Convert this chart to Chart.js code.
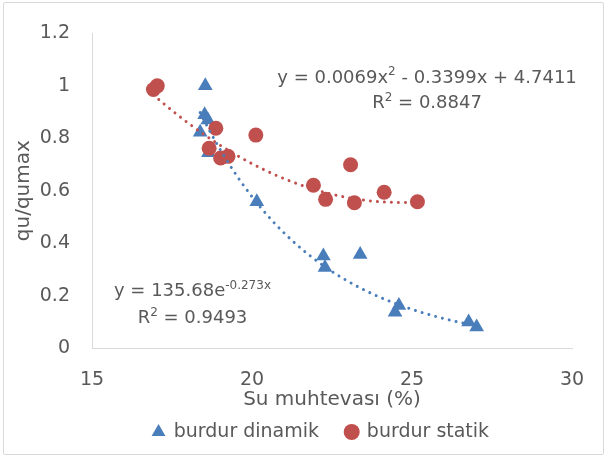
<!DOCTYPE html>
<html>
<head>
<meta charset="utf-8">
<script src="https://cdn.jsdelivr.net/npm/chart.js@4/dist/chart.umd.min.js"></script>
<style>
  html, body { margin: 0; padding: 0; background: #fff; }
  #wrap { position: relative; width: 608px; height: 459px; }
  #frame { position: absolute; left: 3px; top: 2px; width: 601px; height: 453px;
           border: 1px solid #d9d9d9; box-sizing: border-box; border-radius: 2px; pointer-events: none; }
  canvas { display: block; }
</style>
</head>
<body>
<div id="wrap">
  <canvas id="c" width="608" height="459"></canvas>
  <div id="frame"></div>
</div>
<script>
// Measured series: water content (%) vs. normalised strength qu/qumax
const dinamikX = [18.54, 18.52, 18.62, 18.38, 18.64, 20.15, 22.23, 22.28, 23.38, 24.47, 24.59, 26.77, 27.02];
const dinamikY = [1.000, 0.890, 0.870, 0.823, 0.745, 0.558, 0.351, 0.307, 0.357, 0.136, 0.162, 0.099, 0.080];
const statikX  = [16.92, 17.04, 18.87, 18.66, 19.02, 19.25, 20.12, 21.92, 22.30, 23.08, 23.20, 24.13, 25.17];
const statikY  = [0.986, 1.000, 0.838, 0.762, 0.725, 0.731, 0.812, 0.621, 0.567, 0.699, 0.554, 0.594, 0.558];

// Trendline coefficients as printed on the chart
const expFit  = [135.68, -0.273];            // y = a * e^(b x)
const polyFit = [0.0069, -0.3399, 4.7411];   // y = a x^2 + b x + c

const xTicks = [15, 20, 25, 30];
const yTicks = [0, 0.2, 0.4, 0.6, 0.8, 1, 1.2];

const BLUE = '#4a7ebb';
const RED  = '#c0504d';
const TEXT = '#595959';
const FONT = '"DejaVu Sans", sans-serif';

const toPts = (xs, ys) => xs.map((x, i) => ({ x, y: ys[i] }));

function curve(fn, x0, x1, step) {
  const pts = [];
  for (let x = x0; x <= x1 + 1e-9; x += step) pts.push({ x, y: fn(x) });
  return pts;
}
const expCurve  = curve(x => expFit[0] * Math.exp(expFit[1] * x), Math.min(...dinamikX), Math.max(...dinamikX), 0.05);
const polyCurve = curve(x => polyFit[0] * x * x + polyFit[1] * x + polyFit[2], Math.min(...statikX), Math.max(...statikX), 0.05);

// Equation labels (segments: [text, superscript?]), anchored in data space
const eqLabels = [
  { x: 25.47, y: 1.030, parts: [['y = 0.0069x', false], ['2', true], [' - 0.3399x + 4.7411', false]] },
  { x: 25.47, y: 0.932, parts: [['R', false], ['2', true], [' = 0.8847', false]] },
  { x: 18.14, y: 0.215, parts: [['y = 135.68e', false], ['-0.273x', true]] },
  { x: 18.14, y: 0.113, parts: [['R', false], ['2', true], [' = 0.9493', false]] }
];

const eqPlugin = {
  id: 'eqPlugin',
  afterDatasetsDraw(chart) {
    const { ctx, scales } = chart;
    const base = 18, sup = 12;
    ctx.save();
    ctx.fillStyle = TEXT;
    ctx.textBaseline = 'middle';
    ctx.textAlign = 'left';
    eqLabels.forEach(lbl => {
      let total = 0;
      lbl.parts.forEach(([t, s]) => { ctx.font = (s ? sup : base) + 'px ' + FONT; total += ctx.measureText(t).width; });
      let px = scales.x.getPixelForValue(lbl.x) - total / 2;
      const py = scales.y.getPixelForValue(lbl.y);
      lbl.parts.forEach(([t, s]) => {
        ctx.font = (s ? sup : base) + 'px ' + FONT;
        ctx.fillText(t, px, s ? py - 6 : py);
        px += ctx.measureText(t).width;
      });
    });
    ctx.restore();
  }
};

new Chart(document.getElementById('c'), {
  type: 'scatter',
  data: {
    datasets: [
      { label: 'burdur dinamik', data: toPts(dinamikX, dinamikY), pointStyle: 'triangle',
        pointRadius: 8.5, pointHoverRadius: 8.5, backgroundColor: BLUE, borderColor: BLUE, borderWidth: 0, order: 2 },
      { label: 'burdur statik', data: toPts(statikX, statikY), pointStyle: 'circle',
        pointRadius: 7.5, pointHoverRadius: 7.5, backgroundColor: RED, borderColor: RED, borderWidth: 0, order: 1 },
      { label: 'trend-exp', data: expCurve, showLine: true, pointRadius: 0, borderColor: BLUE,
        borderWidth: 3, borderDash: [0.01, 7], borderCapStyle: 'round', fill: false, order: 0 },
      { label: 'trend-poly', data: polyCurve, showLine: true, pointRadius: 0, borderColor: RED,
        borderWidth: 3, borderDash: [0.01, 7], borderCapStyle: 'round', fill: false, order: 0 }
    ]
  },
  options: {
    responsive: false,
    devicePixelRatio: 1,
    animation: false,
    layout: { padding: { left: 36, top: 30, right: 2, bottom: 7.5 } },
    plugins: {
      tooltip: { enabled: false },
      legend: {
        position: 'bottom',
        labels: {
          filter: item => item.text.indexOf('trend') !== 0,
          sort: (a, b) => a.datasetIndex - b.datasetIndex,
          usePointStyle: true,
          boxWidth: 11.3,
          boxHeight: 11.3,
          color: TEXT,
          font: { family: FONT, size: 19 },
          padding: 27
        }
      }
    },
    scales: {
      x: {
        type: 'linear', min: 15, max: 30,
        afterBuildTicks: s => { s.ticks = xTicks.map(v => ({ value: v })); },
        ticks: { color: TEXT, font: { family: FONT, size: 19 }, padding: 21 },
        grid: { drawOnChartArea: false, drawTicks: false },
        border: { display: true, color: '#d9d9d9', width: 1 },
        title: { display: true, text: 'Su muhtevası (%)', color: TEXT, font: { family: FONT, size: 20 }, padding: { top: 0, bottom: -16.5 } },
        afterFit: s => { s.height = 47.5; }
      },
      y: {
        type: 'linear', min: 0, max: 1.2,
        afterBuildTicks: s => { s.ticks = yTicks.map(v => ({ value: v })); },
        ticks: { color: TEXT, font: { family: FONT, size: 19 }, padding: 22,
                 callback: v => String(Math.round(v * 10) / 10) },
        grid: { drawOnChartArea: false, drawTicks: false },
        border: { display: true, color: '#d9d9d9', width: 1 },
        title: { display: true, text: 'qu/qumax', color: TEXT, font: { family: FONT, size: 20 }, padding: { top: -24, bottom: 0 } },
        afterFit: s => { s.width = 56; }
      },
      // empty right-hand margin so the plot ends at x = 30 while the legend spans the full width
      yRight: {
        position: 'right', display: true,
        ticks: { display: false },
        grid: { display: false, drawTicks: false },
        border: { display: false },
        afterFit: s => { s.width = 34; }
      }
    }
  },
  plugins: [eqPlugin]
});
</script>
</body>
</html>
